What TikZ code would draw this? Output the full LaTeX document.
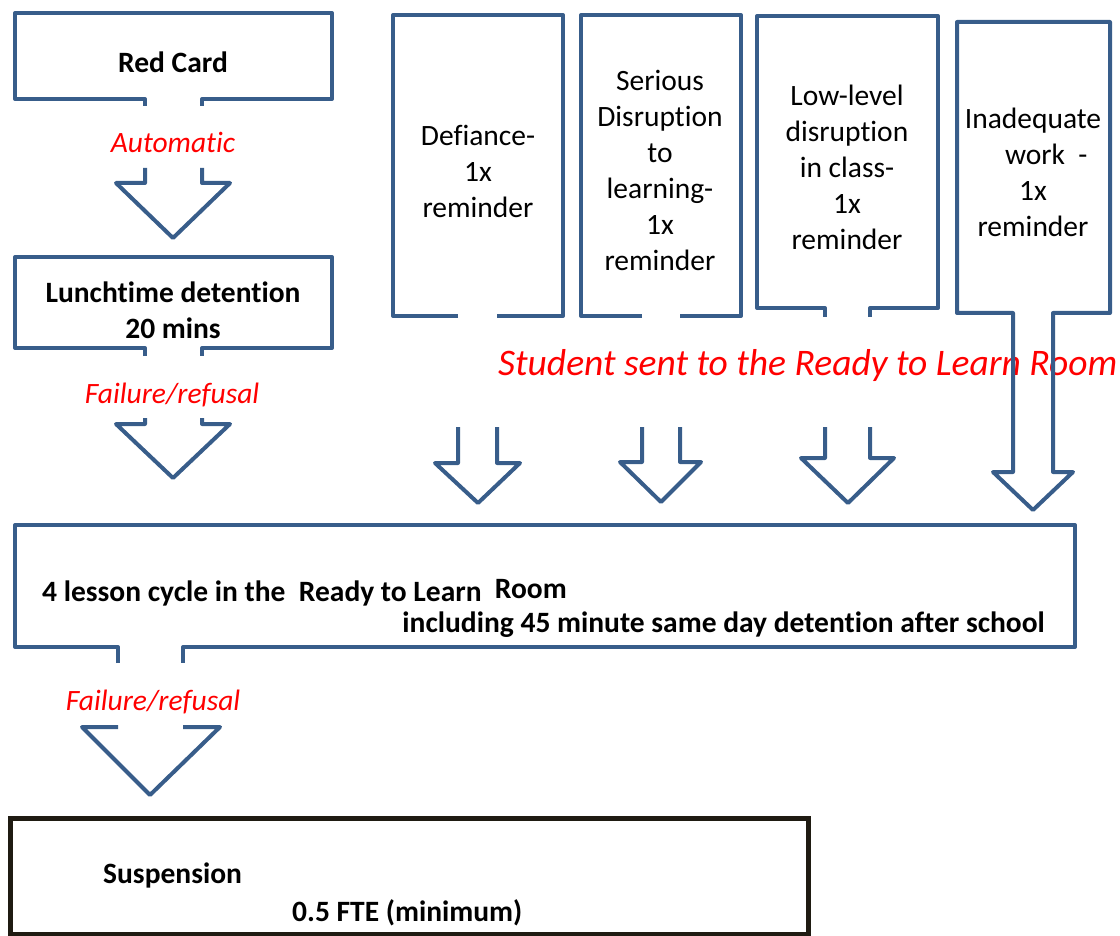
\documentclass[tikz,border=0pt]{standalone}
\usepackage{fontspec}
\setmainfont[Ligatures=NoCommon]{Carlito}
\definecolor{outl}{HTML}{385D8A}
\definecolor{darkline}{HTML}{1F1B12}
\begin{document}
\begin{tikzpicture}[x=1pt,y=-1pt,
  shp/.style={draw=outl,line width=4pt,line join=round},
  lbl/.style={font=\fontsize{29.5}{36}\selectfont,inner sep=0pt,align=center,anchor=base},
  blbl/.style={lbl,font=\fontsize{29.5}{36}\selectfont\bfseries},
  rlbl/.style={lbl,text=red,font=\fontsize{29.5}{36}\selectfont\itshape}]
\useasboundingbox (0,0) rectangle (1120,936);
% texts (base anchor = baseline of last line)
\node[blbl] (rc) at (173,73) {Red Card};
\node[rlbl] (auto) at (173,153) {Automatic};
\node[blbl] (lunch) at (173,338) {Lunchtime detention\\20 mins};
\node[rlbl] (fail1) at (172,403) {Failure/refusal};
\node[lbl] (def) at (478,218) {Defiance-\\1x\\reminder};
\node[lbl] (ser) at (660,271) {Serious\\Disruption\\to\\learning-\\1x\\reminder};
\node[lbl] (low) at (847,250) {Low-level\\disruption\\in class-\\1x\\reminder};
\node[lbl] (inad) at (1033,237) {Inadequate\\\hspace*{0.9em}work\ \ -\\1x\\reminder};
\node[rlbl,font=\fontsize{37.5}{40}\selectfont\itshape,anchor=base west] (sent) at (498,375) {Student sent to the Ready to Learn Room};
\node[blbl,anchor=base west] (cyc1) at (42,601) {4 lesson cycle in the\ \ Ready to Learn\ \ \raisebox{3pt}{Room}};
\node[blbl,anchor=base east] (cyc2) at (1045,632) {including 45 minute same day detention after school};
\node[rlbl] (fail2) at (153,710) {Failure/refusal};
\node[blbl,anchor=base west] (susp) at (103,883) {Suspension};
\node[blbl,anchor=base west] (fte) at (292,921) {0.5 FTE (minimum)};
% Red Card callout
\draw[shp] (145,106) -- (145,99) -- (15,99) -- (15,13) -- (332,13) -- (332,99) -- (202,99) -- (202,106);
\draw[shp] (145,168) -- (145,183) -- (116,183) -- (173,238) -- (230,183) -- (202,183) -- (202,168);
% Lunchtime callout
\draw[shp] (145,356) -- (145,348) -- (15,348) -- (15,257) -- (332,257) -- (332,348) -- (202,348) -- (202,356);
\draw[shp] (145,418) -- (145,424) -- (116,424) -- (173,478) -- (230,424) -- (202,424) -- (202,418);
% Defiance
\draw[shp] (458,316) -- (393,316) -- (393,15) -- (563,15) -- (563,316) -- (497,316);
\draw[shp] (458,427) -- (458,463) -- (435,463) -- (478,503) -- (520,463) -- (497,463) -- (497,427);
% Serious
\draw[shp] (642,316) -- (581,316) -- (581,15) -- (741,15) -- (741,316) -- (680,316);
\draw[shp] (642,427) -- (642,462) -- (620,462) -- (661,502) -- (701,462) -- (680,462) -- (680,427);
% Low-level
\draw[shp] (825,317) -- (825,308) -- (757,308) -- (757,16) -- (938,16) -- (938,308) -- (870,308) -- (870,317);
\draw[shp] (825,427) -- (825,458) -- (801,458) -- (848,503) -- (894,458) -- (870,458) -- (870,427);
% Inadequate
\draw[shp] (1013,472) -- (1013,313) -- (957,313) -- (957,22) -- (1110,22) -- (1110,313) -- (1053,313) -- (1053,472) -- (1073,472) -- (1033,510) -- (993,472) -- cycle;
% Big box
\draw[shp] (118,663) -- (118,647) -- (15,647) -- (15,525) -- (1075,525) -- (1075,647) -- (183,647) -- (183,663);
\draw[shp] (118,727) -- (82,727) -- (150,795) -- (220,727) -- (183,727);
% Suspension
\draw[draw=darkline,line width=5pt] (10,818) rectangle (808,934);
\end{tikzpicture}
\end{document}
